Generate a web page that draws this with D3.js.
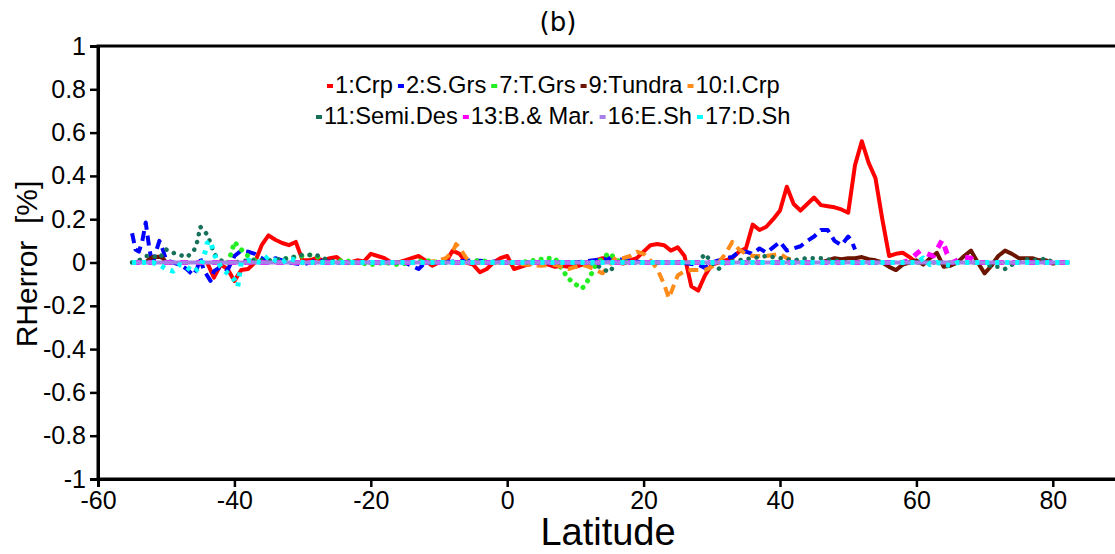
<!DOCTYPE html>
<html>
<head>
<meta charset="utf-8">
<script src="https://cdn.jsdelivr.net/npm/d3@7"></script>
<style>
  body { margin: 0; background: #fff; }
  svg { display: block; font-family: "Liberation Sans", Arial, sans-serif; }
  .tick text { font-size: 25px; fill: #000; }
</style>
</head>
<body>
<svg id="chart" width="1115" height="554"></svg>
<script>
// values (latitude in degrees, RH error in %)
const crpLat = [-44,-43,-42,-41,-40,-39,-38,-37,-36,-35,-34,-33,-32,-31,-30,-29,-28,-27,-26,-25,-24,-23,-22,-21,-20,-19,-18,-17,-16,-15,-14,-13,-12,-11,-10,-9,-8,-7,-6,-5,-4,-3,-2,-1,0,1,2,3,4,5,6,7,8,9,10,11,12,13,14,15,16,17,18,19,20,21,22,23,24,25,26,27,28,29,30,31,32,33,34,35,36,37,38,39,40,41,42,43,44,45,46,47,48,49,50,51,52,53,54,55,56,57,58,59,60];
const crpVal = [0,-0.07,-0.01,-0.03,-0.085,-0.035,-0.03,0,0.08,0.125,0.105,0.09,0.08,0.095,0.01,0.01,0.02,0.01,0.02,0.025,0,0,0.01,0.005,0.04,0.03,0.02,0,0,0.01,0.02,0.03,0.01,-0.015,0,0,0.055,0.04,0,-0.01,-0.045,-0.03,0,0.02,0.03,-0.03,-0.02,-0.01,0,0,-0.01,-0.02,-0.015,-0.02,-0.02,-0.01,0,0.01,0.02,0.02,0,-0.005,0.01,0.02,0.05,0.08,0.085,0.08,0.055,0.07,0.03,-0.11,-0.13,-0.06,-0.01,0,0.01,0.02,0.05,0.065,0.175,0.15,0.165,0.2,0.24,0.35,0.27,0.24,0.27,0.3,0.265,0.26,0.255,0.245,0.23,0.45,0.56,0.46,0.39,0.2,0.03,0.04,0.045,0.025,0];

const sgrsLat = [-55,-54.5,-54,-53.5,-53,-52.5,-52,-51.5,-51,-50.5,-50,-49,-48,-47,-46,-45.5,-45,-44.5,-44,-43.5,-43,-42,-41,-40,-39,-38,-37,-36,-35,-34,-32,-30,-28,-25,-20,-15,-13,-12,-10,-5,0,5,10,15,20,25,28,29,30,31,32,33,34,35,36,37,38,39,40,41,42,43,44,45,46,47,48,49,50,50.5,51];
const sgrsVal = [0.135,0.06,0.05,0.1,0.185,0.07,-0.015,0.05,0.1,0.06,0.01,0,-0.01,-0.03,-0.06,-0.03,0.02,-0.035,-0.06,-0.085,-0.04,-0.02,-0.035,0.03,0.055,0.05,0.04,0.02,0,0.02,0,-0.01,0.01,0,0,0,-0.03,0,0,0.01,0,0,0,0.02,0,0,-0.01,-0.025,0,0.01,0.02,0.025,0.05,0.05,0.04,0.065,0.045,0.07,0.095,0.055,0.065,0.075,0.1,0.12,0.15,0.15,0.1,0.08,0.12,0.1,0.06];

const tgrsLat = [-41,-40.5,-40,-39,-38,-37,-36,-34,-32,-30,-29,-28,-27,-26,-24,-22,-20,-18,-16,-14,-12,-10,-8,-6,-4,-2,0,2,4,6,7,8,9,10,11,12,13,14,15,16,18,20];
const tgrsVal = [0,0.04,0.095,0.06,0.03,0.01,0,0.01,0.02,0.03,0.035,0.03,0.01,0,0.01,0,-0.01,0,-0.01,0,0.01,0,0,0,0.01,0,0,0,0.01,0.02,0.02,-0.03,-0.075,-0.1,-0.12,-0.075,-0.01,0.02,0.045,0.01,0,0];

const tundraSouthLat = [-53,-52.5,-52,-51,-50.5,-50];
const tundraSouthVal = [0,0.015,0.025,0.027,0.02,0];
const tundraLat = [46,47,48,49,50,51,52,53,54,55,56,57,58,59,60,61,62,63,64,65,66,67,68,69,70,71,72,73,74,75,76,77,78,79,80,81,82];
const tundraVal = [0,0.01,0.02,0.015,0.02,0.02,0.025,0.015,0.01,0,-0.02,-0.035,-0.01,0,0.01,-0.01,0.02,0.045,-0.02,-0.015,0,0.03,0.055,0,-0.05,-0.015,0.03,0.055,0.04,0.02,0.02,0.02,0.01,0.01,-0.005,0,0];

const icrpLat = [-12,-10,-9,-8,-7.5,-7,-6,-5,-3,0,3,5,7,9,10,11,12,13,14,15,16,17,18,19,20,21,22,23,23.7,24.5,25,26,27,28,29,30,31,32,33,34,35,36,37,38,39,40,41,42,43];
const icrpVal = [0,0.01,0.02,0.05,0.085,0.07,0.02,0,0,0,-0.01,-0.015,-0.01,-0.03,-0.02,-0.01,-0.02,-0.035,-0.05,-0.01,0.025,0.02,0.03,0.05,0.04,0.01,-0.03,-0.1,-0.165,-0.1,-0.06,-0.04,-0.035,-0.035,-0.035,-0.02,0,0.04,0.095,0.06,0.04,0.03,0.03,0.03,0.035,0.04,0.02,0.01,0];

const semiLat = [-55,-54,-53,-52,-51,-50,-49,-48,-47,-46,-45.5,-45,-44,-43.5,-43,-42,-41,-40,-38,-35,-32,-30,-28,-27,-25,-15,0,10,12,13,14,15,16,20,25,28,29,30,31,32,34,36,38,40,42,44,46,48,50,55,60,65,70,71,72,73,74,75,76,78,79,80];
const semiVal = [0,0.01,0.03,0.03,0.02,0.06,0.045,0.035,0.025,0.05,0.09,0.165,0.13,0.09,0.04,0.01,0,0,0.01,0.01,0.02,0.035,0.035,0.02,0,0,0,0,0,-0.01,-0.03,-0.045,0,0,0,0,0.04,0,-0.03,0,0.01,0.02,0.03,0.02,0.01,0.02,0.02,0.01,0,0,0,0,0,-0.02,-0.02,-0.03,-0.01,0,0.015,0.01,0.02,0];

const bmarLat = [-55,-40,-20,0,20,40,58,59,60,60.6,61.6,62.5,63.8,64.5,65.3,66,67,68,69,70,83];
const bmarVal = [0,0,0,0,0,0,0,0.01,0.04,0.055,0.04,0.03,0.105,0.04,0,0.01,0.025,0.02,0,0,0];

const eshLat = [-55,-30,0,30,60,82.5];
const eshVal = [0,0,0,0,0,0];

const dshLat = [-55,-52,-51,-50,-49,-48,-47,-46,-45,-44.5,-44,-43.5,-43,-42,-41,-40,-39.5,-39,-38,-36,-35,-34,-33,-32,-30,0,30,60,61,62,63,65,66,82.5];
const dshVal = [0,0,-0.01,-0.03,-0.04,-0.01,-0.02,-0.045,-0.02,0.02,0.09,0.1,0.04,-0.02,-0.05,-0.08,-0.11,0,0.01,0,0.03,0.01,0,0.02,0,0,0,0,0.02,-0.01,0,-0.015,0,0];

const legendRow1 = ["1:Crp", "2:S.Grs", "7:T.Grs", "9:Tundra", "10:I.Crp"];
const legendRow2 = ["11:Semi.Des", "13:B.& Mar.", "16:E.Sh", "17:D.Sh"];
const xTicks = [-60, -40, -20, 0, 20, 40, 60, 80];
const yTicks = [-1, -0.8, -0.6, -0.4, -0.2, 0, 0.2, 0.4, 0.6, 0.8, 1];

const zip = (lat, val) => lat.map((d, i) => ({ lat: d, v: val[i] }));

// drawing order: magenta under the lavender zero line, cyan dots on top
const series = [
  { name: "1:Crp", color: "#ff0000", width: 4, dash: null, parts: [zip(crpLat, crpVal)] },
  { name: "2:S.Grs", color: "#0000ff", width: 4, dash: "10,6", parts: [zip(sgrsLat, sgrsVal)] },
  { name: "7:T.Grs", color: "#22ee22", width: 5, dash: "0.1,8", cap: "round", parts: [zip(tgrsLat, tgrsVal)] },
  { name: "9:Tundra", color: "#6b1400", width: 4, dash: null, parts: [zip(tundraSouthLat, tundraSouthVal), zip(tundraLat, tundraVal)] },
  { name: "10:I.Crp", color: "#ff8c1a", width: 4, dash: "10,6", parts: [zip(icrpLat, icrpVal)] },
  { name: "11:Semi.Des", color: "#17705a", width: 4.5, dash: "0.1,8", cap: "round", parts: [zip(semiLat, semiVal)] },
  { name: "13:B.& Mar.", color: "#ff00ff", width: 5, dash: "8,8", parts: [zip(bmarLat, bmarVal)] },
  { name: "16:E.Sh", color: "#a57ee8", width: 4, dash: null, parts: [zip(eshLat, eshVal)] },
  { name: "17:D.Sh", color: "#00ffff", width: 5, dash: "4,6", parts: [zip(dshLat, dshVal)] },
];

const svg = d3.select("#chart");
const mLeft = 98, mTop = 46, mBottom = 479, mRight = 1121;

const x = d3.scaleLinear().domain([-60, 90]).range([mLeft, mRight]);
const y = d3.scaleLinear().domain([-1, 1]).range([mBottom, mTop]);

// frame (right side runs off the picture)
svg.append("rect")
  .attr("x", mLeft).attr("y", mTop)
  .attr("width", mRight - mLeft).attr("height", mBottom - mTop)
  .attr("fill", "none").attr("stroke", "#000").attr("stroke-width", 3);

const line = d3.line().x((d) => x(d.lat)).y((d) => y(d.v));

series.forEach((s) => {
  s.parts.forEach((p) => {
    svg.append("path")
      .datum(p)
      .attr("d", line)
      .attr("fill", "none")
      .attr("stroke", s.color)
      .attr("stroke-width", s.width)
      .attr("stroke-linejoin", "round")
      .attr("stroke-linecap", s.cap || "butt")
      .attr("stroke-dasharray", s.dash);
  });
});

// axes (plain hyphen for negatives, as in the original)
const xAxis = svg.append("g")
  .attr("transform", `translate(0, ${mBottom})`)
  .call(d3.axisBottom(x).tickValues(xTicks).tickSize(8).tickPadding(2).tickFormat((d) => String(d)));
const yAxis = svg.append("g")
  .attr("transform", `translate(${mLeft}, 0)`)
  .call(d3.axisLeft(y).tickValues(yTicks).tickSize(8).tickPadding(4).tickFormat((d) => String(+d.toFixed(1))));

[xAxis, yAxis].forEach((a) => {
  a.select(".domain").attr("stroke-width", 3);
  a.selectAll(".tick line").attr("stroke-width", 2.5);
  a.selectAll(".tick text").attr("font-family", "Liberation Sans, Arial, sans-serif");
});
xAxis.selectAll(".tick text").attr("dy", "0.78em");

// titles
svg.append("text")
  .attr("x", 558).attr("y", 31)
  .attr("text-anchor", "middle")
  .attr("font-family", "DejaVu Sans, sans-serif")
  .attr("font-size", 26)
  .text("(b)");

svg.append("text")
  .attr("x", 608).attr("y", 545)
  .attr("text-anchor", "middle")
  .attr("font-size", 38)
  .text("Latitude");

svg.append("text")
  .attr("transform", "translate(37, 264) rotate(-90)")
  .attr("text-anchor", "middle")
  .attr("font-size", 30)
  .attr("xml:space", "preserve")
  .text("RHerror  [%]");

// legend
const colorOf = (name) => series.find((s) => s.name === name).color;

function legendRow(names, x0, baseline) {
  let cx = x0;
  names.forEach((n) => {
    svg.append("rect")
      .attr("x", cx).attr("y", baseline - 9)
      .attr("width", 6).attr("height", 4)
      .attr("fill", colorOf(n));
    const t = svg.append("text")
      .attr("x", cx + 8).attr("y", baseline)
      .attr("font-size", 23.7)
      .text(n);
    cx += 8 + t.node().getComputedTextLength() + 5;
  });
}

legendRow(legendRow1, 327, 93);
legendRow(legendRow2, 316, 124);
</script>
</body>
</html>
